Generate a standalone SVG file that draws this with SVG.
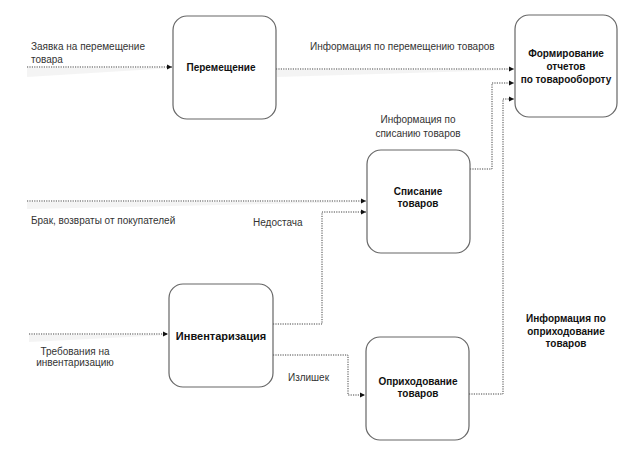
<svg xmlns="http://www.w3.org/2000/svg" width="638" height="453" viewBox="0 0 638 453">
<style>
.node{fill:#fff;stroke:#666;stroke-width:1.2}
.ln{fill:none;stroke:#444;stroke-width:1;stroke-dasharray:1.2 1.2}
.sh{fill:#ececec;opacity:0.6}
.lbl{font-family:"Liberation Sans",Arial,sans-serif;font-size:10px;fill:#333}
.nt{font-family:"Liberation Sans",Arial,sans-serif;font-size:10px;font-weight:bold;fill:#111;text-anchor:middle}
.bl{font-family:"Liberation Sans",Arial,sans-serif;font-size:10px;font-weight:bold;fill:#111;text-anchor:middle}
</style>
<defs>
<marker id="ah" markerWidth="6" markerHeight="6" refX="5" refY="3" orient="auto" markerUnits="userSpaceOnUse">
<path d="M0,0.5 L5,3 L0,5.5 Z" fill="#111"/>
</marker>
</defs>
<rect width="638" height="453" fill="#fff"/>
<g id="connectors">
<polygon class="sh" points="27,68 172,68 27,77"/>
<polygon class="sh" points="277,70 514,70 277,77"/>
<polygon class="sh" points="27,202 366,202 27,209"/>
<polygon class="sh" points="29,335 168,335 29,342"/>
<path class="ln" d="M27,67 H172" marker-end="url(#ah)"/>
<path class="ln" d="M276,69 H514" marker-end="url(#ah)"/>
<path class="ln" d="M470,169 H492 V83 H514" marker-end="url(#ah)"/>
<path class="ln" d="M469,394 H503 V99 H514" marker-end="url(#ah)"/>
<path class="ln" d="M27,201 H366" marker-end="url(#ah)"/>
<path class="ln" d="M273,324 H322 V212 H366" marker-end="url(#ah)"/>
<path class="ln" d="M273,355 H348 V395 H365" marker-end="url(#ah)"/>
<path class="ln" d="M29,334 H168" marker-end="url(#ah)"/>
<text class="lbl" x="31" y="50">Заявка на перемещение</text>
<text class="lbl" x="31" y="63">товара</text>
<text class="lbl" x="310" y="50">Информация по перемещению товаров</text>
<text class="lbl" x="418" y="123" text-anchor="middle">Информация по</text>
<text class="lbl" x="418" y="137" text-anchor="middle">списанию товаров</text>
<text class="lbl" x="31" y="224">Брак, возвраты от покупателей</text>
<text class="lbl" x="253" y="226">Недостача</text>
<text class="lbl" x="288" y="381">Излишек</text>
<text class="lbl" x="75" y="355" text-anchor="middle">Требования на</text>
<text class="lbl" x="75" y="366" text-anchor="middle">инвентаризацию</text>
<text class="bl" x="566" y="322">Информация по</text>
<text class="bl" x="566" y="335">оприходование</text>
<text class="bl" x="566" y="347">товаров</text>
</g>
<g id="node-peremeshchenie">
<rect class="node" x="173" y="16" width="103" height="103" rx="14"/>
<text class="nt" x="221" y="71">Перемещение</text>
</g>
<g id="node-formirovanie">
<rect class="node" x="515" y="15" width="102" height="102" rx="14"/>
<text class="nt" x="566" y="57">Формирование</text>
<text class="nt" x="566" y="70">отчетов</text>
<text class="nt" x="566" y="83">по товарообороту</text>
</g>
<g id="node-spisanie">
<rect class="node" x="367" y="150" width="103" height="103" rx="14"/>
<text class="nt" x="418" y="195">Списание</text>
<text class="nt" x="418" y="207">товаров</text>
</g>
<g id="node-inventarizatsiya">
<rect class="node" x="169" y="284" width="104" height="103" rx="14"/>
<text class="nt" x="221" y="340" style="font-size:11px">Инвентаризация</text>
</g>
<g id="node-oprikhodovanie">
<rect class="node" x="366" y="337" width="103" height="103" rx="14"/>
<text class="nt" x="418" y="385">Оприходование</text>
<text class="nt" x="418" y="397">товаров</text>
</g>
</svg>
